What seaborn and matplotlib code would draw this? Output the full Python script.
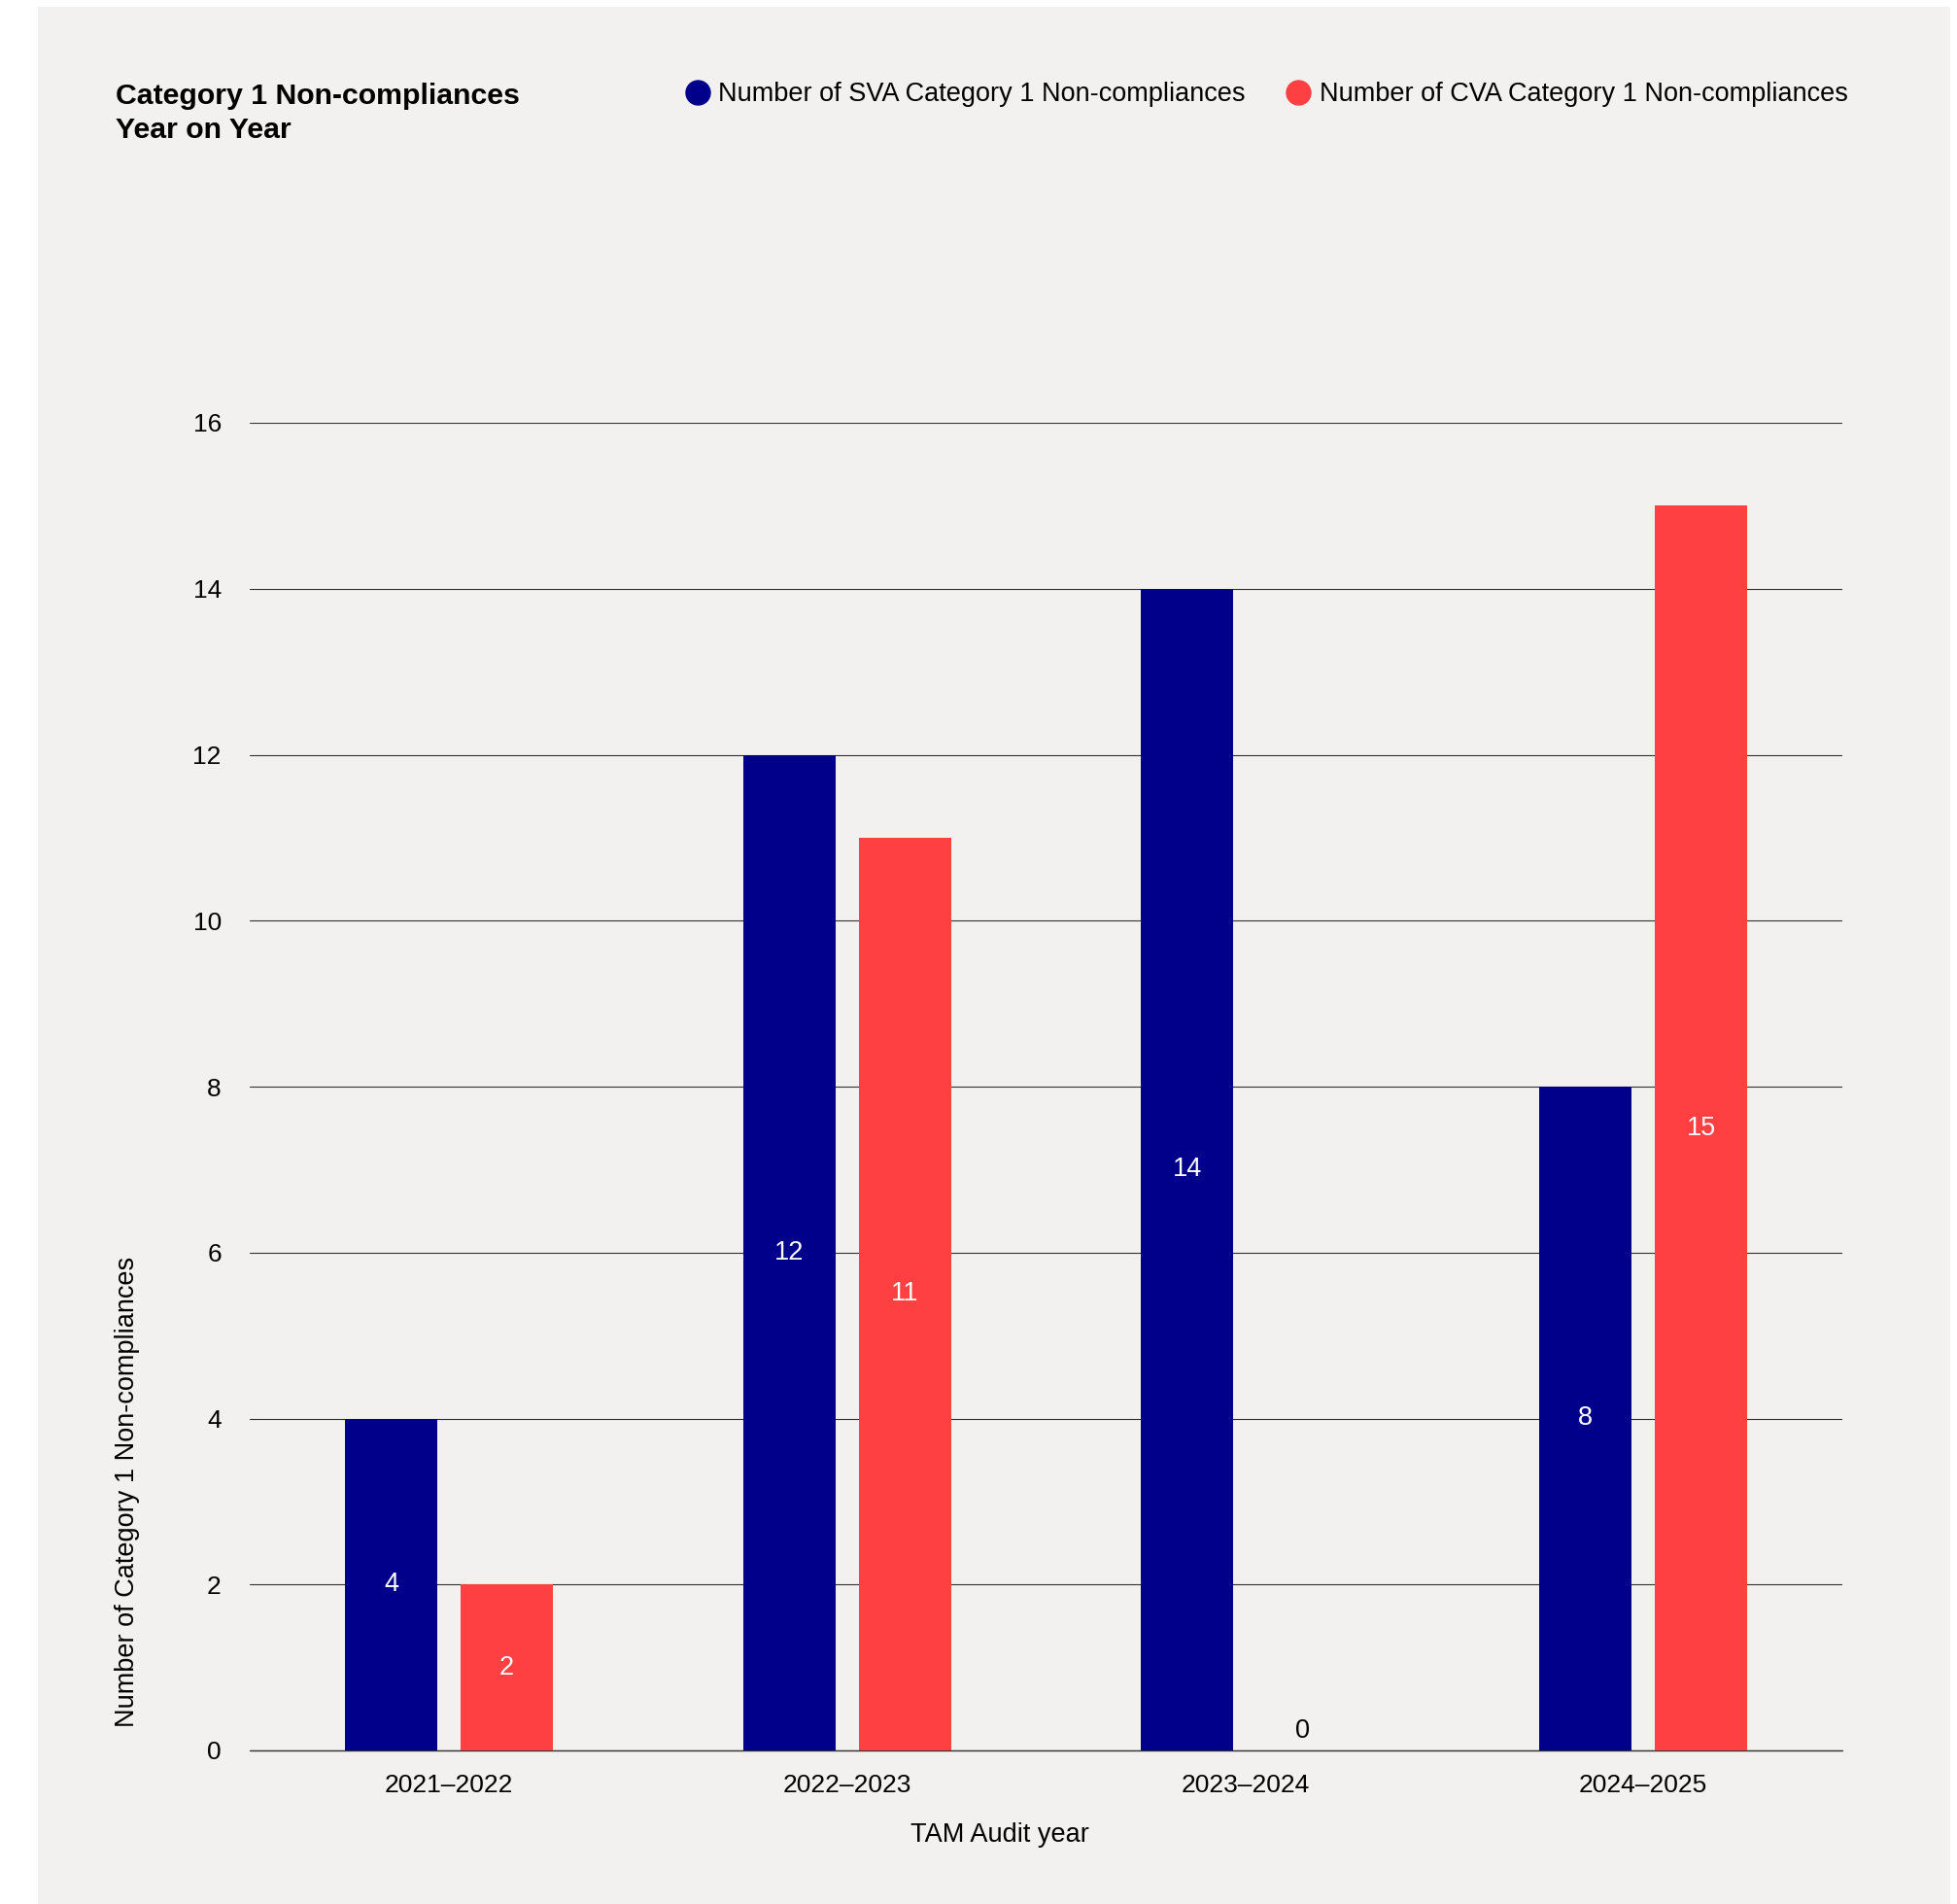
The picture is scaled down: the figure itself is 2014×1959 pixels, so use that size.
import matplotlib
matplotlib.use("Agg")
import matplotlib.pyplot as plt
from matplotlib.lines import Line2D
from matplotlib.patches import Rectangle
import seaborn as sns
import pandas as pd

years = ["2021–2022", "2022–2023", "2023–2024", "2024–2025"]
sva_counts = [4, 12, 14, 8]
cva_counts = [2, 11, 0, 15]
series_names = ["Number of SVA Category 1 Non-compliances",
                "Number of CVA Category 1 Non-compliances"]
y_ticks = [0, 2, 4, 6, 8, 10, 12, 14, 16]

BLUE = "#00008B"
RED = "#FF4043"
PANEL = "#F2F1EF"


def main() -> None:
    sns.set_theme(style="white")
    plt.rcParams['font.family'] = ['Liberation Sans', 'DejaVu Sans']
    plt.rcParams['text.color'] = 'black'

    df = pd.DataFrame({
        'year': years * 2,
        'count': sva_counts + cva_counts,
        'series': [series_names[0]] * len(years) + [series_names[1]] * len(years),
    })

    fig = plt.figure(figsize=(20.14, 19.59), dpi=100)
    fig.patch.set_facecolor("white")
    fig.patches.append(Rectangle((39 / 2014, 0), (2007 - 39) / 2014, 1 - 7 / 1959,
                                 transform=fig.transFigure, facecolor=PANEL,
                                 edgecolor="none", zorder=-10))

    ax = fig.add_axes([257 / 2014, 1 - 1801 / 1959, (1896 - 257) / 2014, (1801 - 435) / 1959])
    ax.set_facecolor("none")

    sns.barplot(data=df, x='year', y='count', hue='series',
                palette={series_names[0]: BLUE, series_names[1]: RED},
                width=0.58, gap=0.2, saturation=1, errorbar=None,
                linewidth=0, legend=False, ax=ax, zorder=3)

    for container in ax.containers:
        vals = [int(round(b.get_height())) for b in container]
        ax.bar_label(container, labels=[str(v) if v > 0 else '' for v in vals],
                     label_type='center', color='white', fontsize=19.5)
        ax.bar_label(container, labels=['0' if v == 0 else '' for v in vals],
                     label_type='edge', padding=5, color='black', fontsize=19.5)

    ax.set_ylim(0, 16)
    ax.set_xlim(-0.5, 3.5)
    ax.set_yticks(y_ticks)
    ax.yaxis.grid(True, color="#333333", linewidth=0.8, zorder=0)
    ax.axhline(0, color="#333333", linewidth=1.0, clip_on=False, zorder=2)
    ax.set_axisbelow(True)
    for s in ax.spines.values():
        s.set_visible(False)
    ax.tick_params(axis='both', length=0, labelsize=19, colors='black')
    ax.tick_params(axis='y', pad=21)
    ax.tick_params(axis='x', pad=17.5)

    ax.set_xlabel("TAM Audit year", fontsize=19.5, color='black')
    ax.xaxis.set_label_coords(0.471, -0.054)
    ax.set_ylabel("Number of Category 1 Non-compliances", fontsize=19.5, color='black')
    ax.yaxis.set_label_coords(-0.069, 0.195)

    fig.text(119 / 2014, 1 - 85 / 1959, "Category 1 Non-compliances\nYear on Year",
             fontsize=21.8, fontweight='bold', ha='left', va='top', linespacing=1.3,
             color='black')

    handles = [Line2D([], [], marker='o', linestyle='', markersize=18,
                      markerfacecolor=c, markeredgecolor=c) for c in (BLUE, RED)]
    fig.legend(handles, series_names, loc='center right',
               bbox_to_anchor=(1915 / 2014, 1 - 97 / 1959), ncol=2, frameon=False,
               fontsize=19.5, handletextpad=0.3, columnspacing=1.5,
               borderpad=0, handlelength=1.0, labelcolor='black')

    fig.savefig("out.png", dpi=100)


if __name__ == '__main__':
    main()
